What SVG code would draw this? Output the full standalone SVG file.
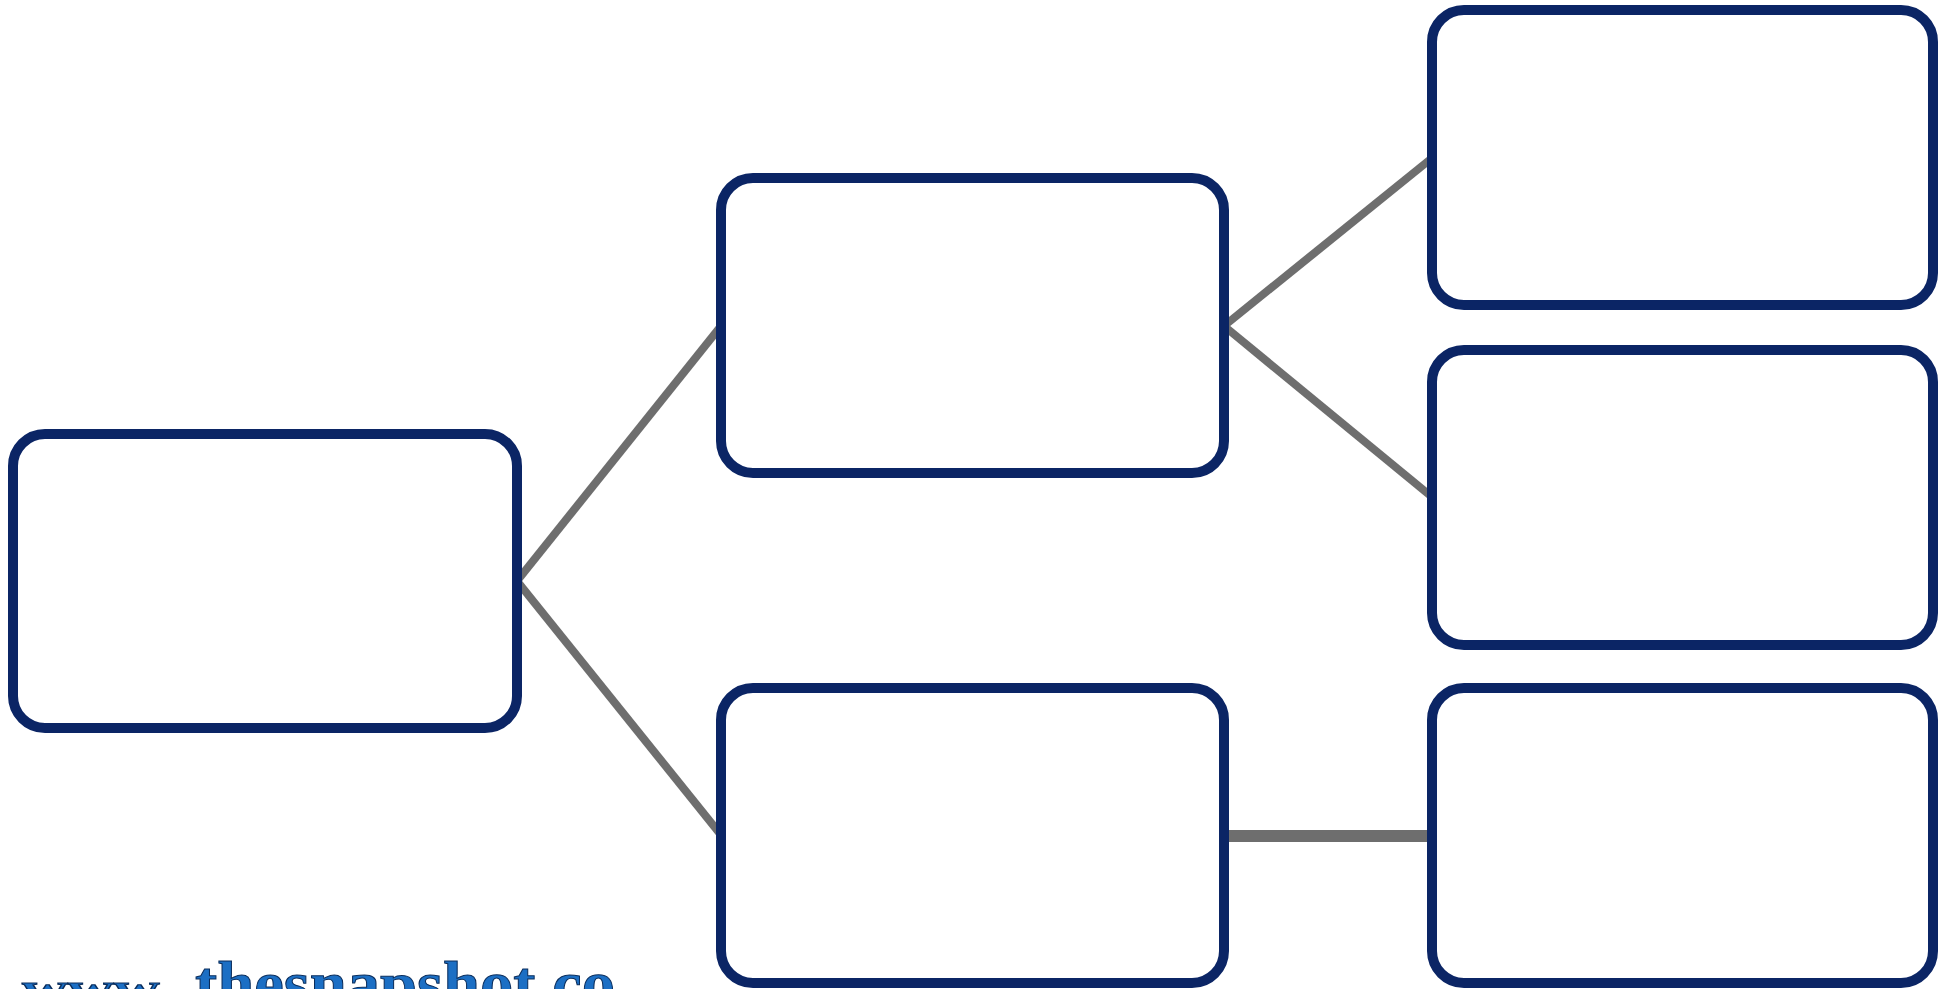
<svg xmlns="http://www.w3.org/2000/svg" width="1950" height="989" viewBox="0 0 1950 989">
<style>
.box{fill:#ffffff;stroke:#0b2565;stroke-width:10}
.ln{stroke:#6e6e6e;stroke-width:8;fill:none;stroke-linecap:butt}
.wm{font-family:"Liberation Serif","DejaVu Serif",serif;font-weight:bold;fill:#1c6fc4;stroke:#0a2c5a;stroke-width:1}
</style>
<rect width="1950" height="989" fill="#ffffff"/>
<g id="connectors">
<line class="ln" x1="517" y1="581" x2="721" y2="326"/>
<line class="ln" x1="517" y1="581" x2="721" y2="835"/>
<line class="ln" x1="1224" y1="326" x2="1432" y2="158"/>
<line class="ln" x1="1224" y1="326" x2="1432" y2="497"/>
<line class="ln" x1="1224" y1="836" x2="1432" y2="836" style="stroke-width:12"/>
</g>
<g id="nodeA"><rect class="box" x="13" y="434" width="504" height="294" rx="32"/></g>
<g id="nodeB"><rect class="box" x="721" y="178" width="503" height="295" rx="32"/></g>
<g id="nodeC"><rect class="box" x="721" y="688" width="503" height="295" rx="32"/></g>
<g id="nodeD"><rect class="box" x="1432" y="10" width="501" height="295" rx="32"/></g>
<g id="nodeE"><rect class="box" x="1432" y="350" width="501" height="295" rx="32"/></g>
<g id="nodeF"><rect class="box" x="1432" y="688" width="501" height="295" rx="32"/></g>
<g id="watermark">
<text class="wm" x="22" y="1001" font-size="38" textLength="150" lengthAdjust="spacingAndGlyphs">www.</text>
<text class="wm" x="195" y="1005" font-size="64" textLength="420" lengthAdjust="spacingAndGlyphs">thesnapshot.co</text>
</g>
</svg>
